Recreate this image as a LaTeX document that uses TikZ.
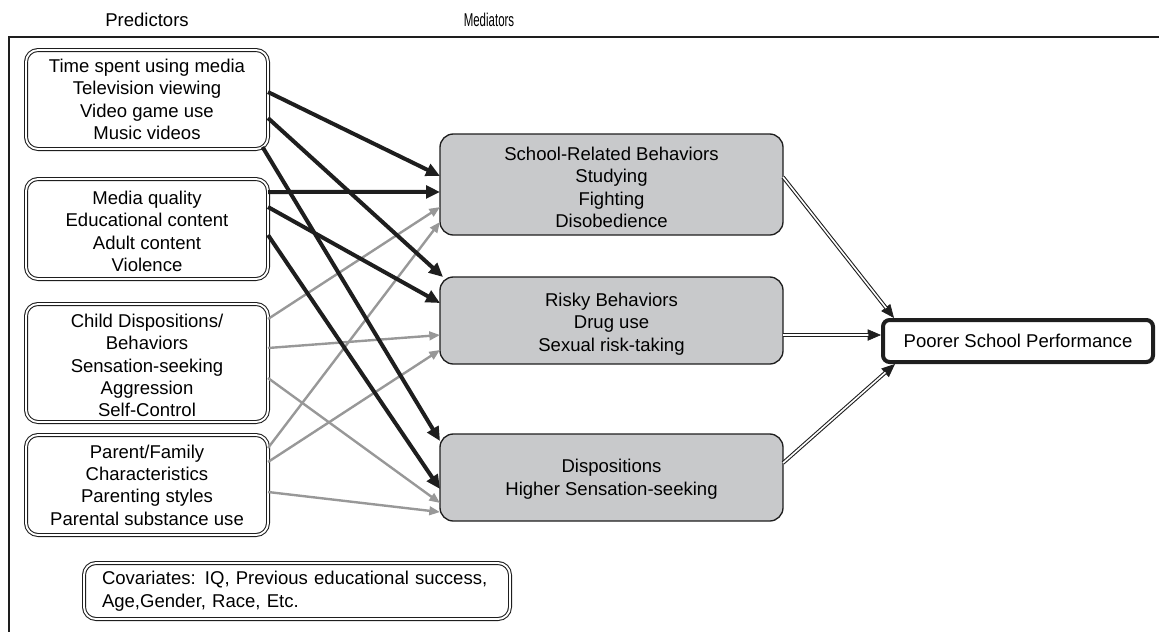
\documentclass[tikz,border=0pt]{standalone}
\usepackage{fontspec}
\setmainfont{Liberation Sans}
\usepackage{graphicx}
\usetikzlibrary{arrows.meta}
\definecolor{medgray}{RGB}{200,201,203}
\definecolor{arrowgray}{RGB}{152,152,152}
\definecolor{ink}{RGB}{30,30,30}
\begin{document}
\begin{tikzpicture}[x=0.75pt,y=-0.75pt,
  font=\fontsize{13.9}{16.8}\selectfont,
  predbox/.style={draw=ink, line width=0.8pt, double=white, double distance=1.4pt,
    rounded corners=9pt, minimum width=181.5pt, inner sep=0pt, outer sep=0pt},
  medbox/.style={draw=ink, line width=1pt, fill=medgray, rounded corners=10pt,
    minimum width=257.25pt, inner sep=0pt, outer sep=0pt},
  outbox/.style={draw=ink, line width=3pt, rounded corners=5pt, minimum width=202.5pt,
    minimum height=31.5pt, inner sep=0pt, outer sep=0pt},
  boxtext/.style={inner sep=0pt, align=center},
  strong/.style={line width=3pt, draw=ink, -{Triangle[length=10.5pt,width=9.5pt]}},
  weak/.style={line width=1.8pt, draw=arrowgray, -{Triangle[length=8pt,width=6.5pt]}},
  dblline/.style={draw=ink, line width=0.8pt, double=white, double distance=1.2pt, shorten >=9.5pt},
  dbltip/.style={draw=ink, line width=0.5pt, -{Triangle[length=10pt,width=8.5pt]}},
  header/.style={inner sep=0pt}
]
\useasboundingbox (0,0) rectangle (1159,632);

% frame
\draw[ink, line width=1.1pt] (1159,37) -- (9,37) -- (9,632);

% headers
\node[header] (hp) at (147,20) {Predictors};
\node[header] (hm) at (489,20) {\scalebox{0.62}[1]{Mediators}};

% predictors
\node[predbox, minimum height=74.25pt] (p1) at (147,99.5) {};
\node[boxtext] (p1t) at (p1.center)
  {Time spent using media\\Television viewing\\Video game use\\Music videos};
\node[predbox, minimum height=75pt] (p2) at (147,229) {};
\node[boxtext] (p2t) at ([yshift=-1.8pt]p2.center)
  {Media quality\\Educational content\\Adult content\\Violence};
\node[predbox, minimum height=88.5pt] (p3) at (147,363) {};
\node[boxtext] (p3t) at ([yshift=-1.8pt]p3.center)
  {Child Dispositions/\\Behaviors\\Sensation-seeking\\Aggression\\Self-Control};
\node[predbox, minimum height=75pt] (p4) at (147,485) {};
\node[boxtext] (p4t) at (p4.center)
  {Parent/Family\\Characteristics\\Parenting styles\\Parental substance use};

% covariates
\node[predbox, minimum width=0pt, minimum height=42pt, text width=292.5pt,
  inner xsep=13.5pt, align=left] (cov) at (297,591)
  {Covariates: IQ, Previous educational success,\\Age,Gender, Race, Etc.};

% mediators
\node[medbox, minimum height=75.75pt] (m1) at (611.5,184.5) {};
\node[boxtext] (m1t) at ([yshift=-2.2pt]m1.center)
  {School-Related Behaviors\\Studying\\Fighting\\Disobedience};
\node[medbox, minimum height=65.25pt] (m2) at (611.5,320.5) {};
\node[boxtext] (m2t) at ([yshift=-2.6pt]m2.center)
  {Risky Behaviors\\Drug use\\Sexual risk-taking};
\node[medbox, minimum height=65.25pt] (m3) at (611.5,477.5) {};
\node[boxtext] (m3t) at ([yshift=-1.2pt]m3.center)
  {Dispositions\\Higher Sensation-seeking};

% outcome
\node[outbox] (o) at (1018,341) {Poorer School Performance};

% gray arrows
\draw[weak] ([yshift=33pt]p3.east) -- ([yshift=-16.9pt]m1.west);
\draw[weak] ([yshift=11.25pt]p3.east) -- ([yshift=-10.9pt]m2.west);
\draw[weak] ([yshift=-11.25pt]p3.east) -- ([yshift=-19.1pt]m3.west);
\draw[weak] ([yshift=27.75pt]p4.east) -- ([yshift=-28.1pt]m1.west);
\draw[weak] ([yshift=17.25pt]p4.east) -- ([yshift=-22.1pt]m2.west);
\draw[weak] ([yshift=-5.25pt]p4.east) -- ([yshift=-25.9pt]m3.west);

% black arrows
\draw[strong] ([yshift=5.6pt]p1.east) -- ([yshift=6.4pt]m1.west);
\draw[strong] ([yshift=-13.9pt]p1.east) -- ([xshift=2.25pt]m2.north west);
\draw[strong] ([xshift=-4.1pt,yshift=1.5pt]p1.south east) -- ([yshift=27.4pt]m3.west);
\draw[strong] ([yshift=27.75pt]p2.east) -- ([yshift=-5.6pt]m1.west);
\draw[strong] ([yshift=16.5pt]p2.east) -- ([yshift=13.1pt]m2.west);
\draw[strong] ([yshift=-4.5pt]p2.east) -- ([yshift=-8.6pt]m3.west);

% double arrows to outcome
\draw[dbltip] ([yshift=5.6pt]m1.east) -- ([xshift=8.25pt,yshift=1.5pt]o.north west);
\draw[dblline] ([yshift=5.6pt]m1.east) -- ([xshift=8.25pt,yshift=1.5pt]o.north west);
\draw[dbltip] ([yshift=-10.9pt]m2.east) -- ([xshift=-1.5pt,yshift=4.5pt]o.west);
\draw[dblline] ([yshift=-10.9pt]m2.east) -- ([xshift=-1.5pt,yshift=4.5pt]o.west);
\draw[dbltip] ([yshift=10.9pt]m3.east) -- ([xshift=9pt,yshift=-1.5pt]o.south west);
\draw[dblline] ([yshift=10.9pt]m3.east) -- ([xshift=9pt,yshift=-1.5pt]o.south west);
\end{tikzpicture}
\end{document}
